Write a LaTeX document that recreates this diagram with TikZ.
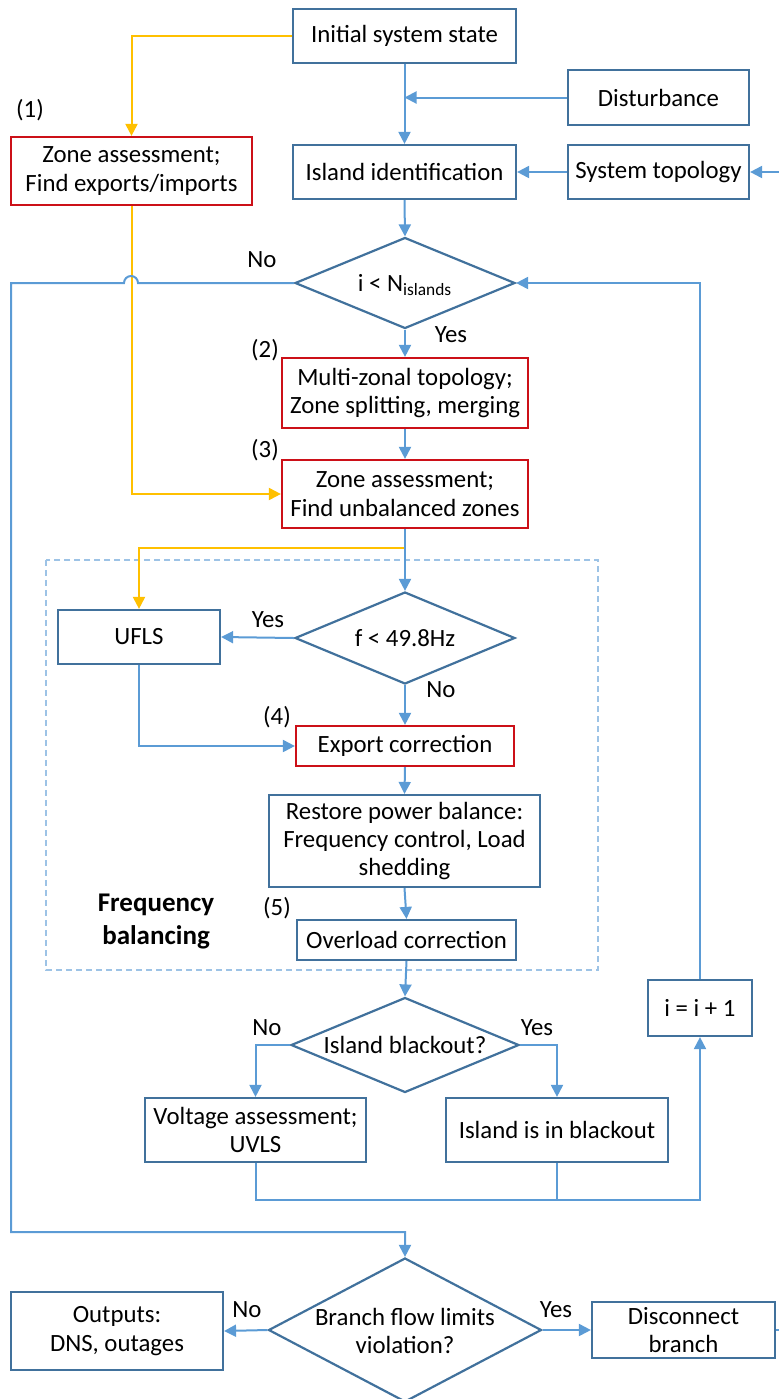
\documentclass[tikz,border=0pt]{standalone}
\usepackage{fontspec}
\setmainfont{Carlito}
\usetikzlibrary{arrows.meta,shapes.geometric}
\definecolor{lineblue}{RGB}{91,155,213}
\definecolor{boxblue}{RGB}{65,113,156}
\definecolor{zonered}{RGB}{204,16,24}
\definecolor{feedyellow}{RGB}{255,192,0}
\definecolor{frameblue}{RGB}{157,195,230}
\begin{document}
\begin{tikzpicture}[x=0.5pt,y=-0.5pt,
  font=\fontsize{12.4}{14.2}\selectfont,
  box/.style={draw=boxblue, line width=1.1pt, inner sep=2pt, align=center},
  redbox/.style={box, draw=zonered},
  dia/.style={draw=boxblue, line width=1.1pt, diamond, inner sep=0pt, shape aspect=2.4},
  flow/.style={draw=lineblue, line width=1pt, -{Triangle[length=6pt,width=6pt]}},
  plain/.style={draw=lineblue, line width=1pt},
  feed/.style={draw=feedyellow, line width=1pt, -{Triangle[length=6pt,width=6pt]}},
  lbl/.style={inner sep=0pt}]
\useasboundingbox (0,0) rectangle (779,1399);
\clip (0,0) rectangle (779,1399);

% frequency balancing frame
\draw[frameblue, line width=0.7pt, dash pattern=on 3pt off 2pt] (46,560) rectangle (598,970);
\node[lbl, align=center, font=\fontsize{13.5}{16.5}\selectfont\bfseries] (fbal) at (156,922) {Frequency\\balancing};

% process boxes
\node[box, minimum width=111.5pt, minimum height=27pt] (init) at (404.5,36) {Initial system state};
\node[box, minimum width=90.5pt, minimum height=27.5pt] (dist) at (658.5,97.5) {Disturbance};
\node[box, minimum width=111.5pt, minimum height=27pt] (island) at (404.5,172) {Island identification};
\node[box, minimum width=90.5pt, minimum height=27pt] (topo) at (658.5,172) {System topology};
\node[redbox, minimum width=120.5pt, minimum height=34pt] (zone1) at (131.5,171) {Zone assessment;\\Find exports/imports};
\node[redbox, minimum width=123pt, minimum height=35pt] (mz) at (405,393) {Multi-zonal topology;\\Zone splitting, merging};
\node[redbox, minimum width=123pt, minimum height=34pt] (zone3) at (405,494) {Zone assessment;\\Find unbalanced zones};
\node[box, minimum width=81pt, minimum height=27pt] (ufls) at (139,637) {UFLS};
\node[redbox, minimum width=109pt, minimum height=20pt] (exp) at (405,746) {Export correction};
\node[box, minimum width=135.5pt, minimum height=46pt] (rest) at (404.5,841) {Restore power balance:\\Frequency control, Load\\shedding};
\node[box, minimum width=109.5pt, minimum height=20pt] (over) at (406.5,940) {Overload correction};
\node[box, minimum width=110.5pt, minimum height=32pt] (volt) at (255.5,1130) {Voltage assessment;\\UVLS};
\node[box, minimum width=111pt, minimum height=32pt] (ib) at (557,1130) {Island is in blackout};
\node[box, minimum width=52pt, minimum height=28pt] (inc) at (700,1008) {i = i + 1};
\node[box, minimum width=106pt, minimum height=39pt] (out) at (117,1331) {Outputs:\\DNS, outages};
\node[box, minimum width=91.5pt, minimum height=28pt] (disc) at (683.5,1330) {Disconnect\\branch};

% decisions
\node[dia, minimum width=110pt, minimum height=45.5pt] (dec1) at (405,283) {};
\node[lbl] (dec1t) at (405,285) {i < N\textsubscript{islands}};
\node[dia, minimum width=110pt, minimum height=46pt] (freq) at (405,638) {};
\node[lbl] (freqt) at (405,638) {f < 49.8Hz};
\node[dia, minimum width=114pt, minimum height=47.5pt] (bo) at (405,1045) {};
\node[lbl] (bot) at (405,1045) {Island blackout?};
\node[dia, minimum width=136.5pt, minimum height=72pt] (bf) at (405,1330) {};
\node[lbl, align=center] (bft) at (405,1331) {Branch flow limits\\violation?};

% step numbers and branch labels
\node[lbl] (n1) at (30,110) {(1)};
\node[lbl] (n2) at (265,350) {(2)};
\node[lbl] (n3) at (265,450) {(3)};
\node[lbl] (n4) at (277,717) {(4)};
\node[lbl] (n5) at (277,908) {(5)};
\node[lbl] (no1) at (262,260) {No};
\node[lbl] (yes1) at (451,335) {Yes};
\node[lbl] (yes2) at (268,620) {Yes};
\node[lbl] (no2) at (441,690) {No};
\node[lbl] (no3) at (267,1028) {No};
\node[lbl] (yes3) at (537,1028) {Yes};
\node[lbl] (no4) at (247,1310) {No};
\node[lbl] (yes4) at (556,1310) {Yes};

% helper points for bends
\coordinate (topoIn) at (779,172);
\coordinate (discOut) at (779,1330);
\coordinate (hopR) at (138,283);
\coordinate (loopTL) at (11,283);
\coordinate (loopBL) at (11,1232);
\coordinate (yfork) at (405,548);
\coordinate (joinY) at (557,1200);

% yellow information links
\draw[feed] (init.west) -| (zone1.north);
\draw[feed] (zone1.south) |- (zone3.west);
\draw[feed] (yfork) -| (ufls.north);

% main flow
\draw[flow] (init.south) -- (island.north);
\draw[flow] (dist.west) -- (dist.west -| init.south);
\draw[flow] (topoIn) -- (topo.east);
\draw[flow] (topo.west) -- (island.east);
\draw[flow] (island.south) -- (dec1.north);
\draw[flow] (dec1.south) -- (mz.north);
\draw[flow] (mz.south) -- (zone3.north);
\draw[flow] (zone3.south) -- (freq.north);
\draw[flow] (freq.west) -- (ufls.east);
\draw[flow] (freq.south) -- (exp.north);
\draw[flow] (ufls.south) |- (exp.west);
\draw[flow] (exp.south) -- (rest.north);
\draw[flow] (rest.south) -- (over.north);
\draw[flow] (over.south) -- (bo.north);
\draw[flow] (bo.west) -| (volt.north);
\draw[flow] (bo.east) -| (ib.north);
\draw[flow] (volt.south) |- (joinY) -| (inc.south);
\draw[plain] (ib.south) -- (joinY);
\draw[flow] (inc.north) |- (dec1.east);
\draw[flow] (dec1.west) -- (hopR) arc[start angle=0, end angle=-180, radius=7] -- (loopTL) -- (loopBL) -| (bf.north);
\draw[flow] (bf.west) -- (out.east);
\draw[flow] (bf.east) -- (disc.west);
\draw[plain] (disc.east) -- (discOut);
\end{tikzpicture}
\end{document}
